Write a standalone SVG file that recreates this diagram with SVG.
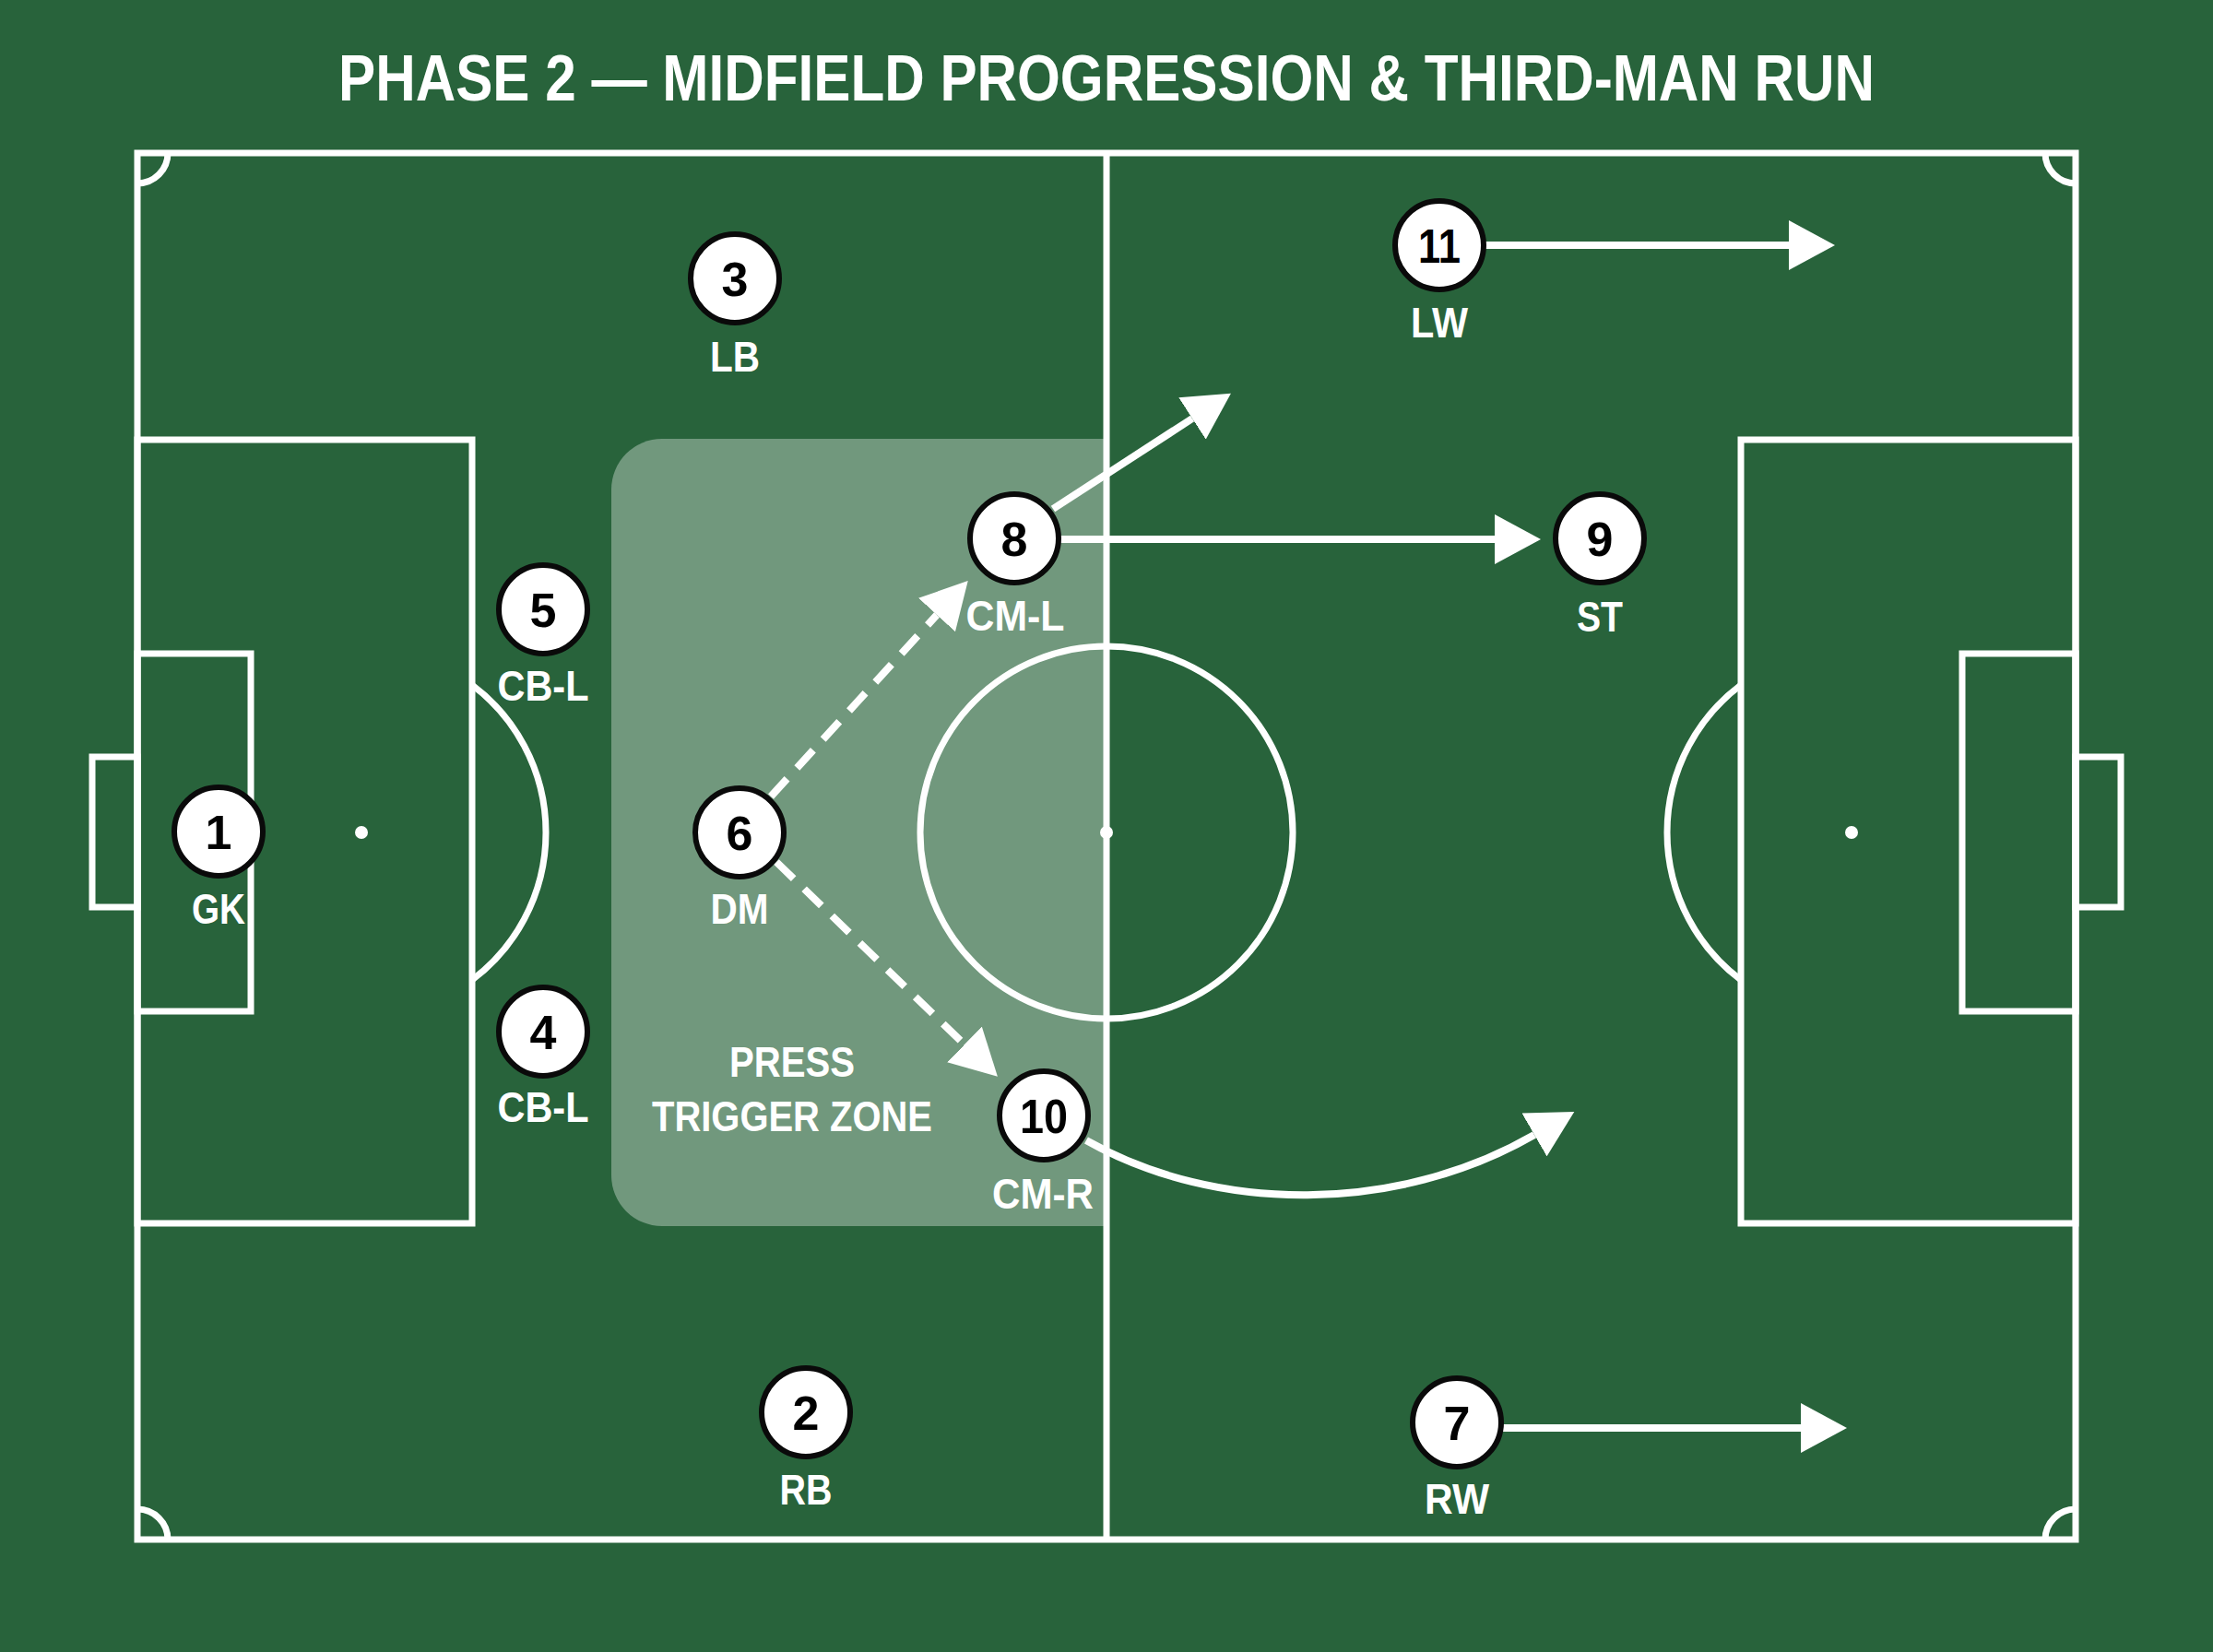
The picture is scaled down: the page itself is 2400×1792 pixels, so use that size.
<svg xmlns="http://www.w3.org/2000/svg" width="2400" height="1792" viewBox="0 0 2400 1792">
<style>
.line{fill:none;stroke:#ffffff;stroke-width:7}
.spot{fill:#ffffff}
.title{font-family:"Liberation Sans",Arial,sans-serif;font-weight:700;font-size:70px;fill:#ffffff}
.lbl{font-family:"Liberation Sans",Arial,sans-serif;font-weight:700;font-size:46px;fill:#ffffff;text-anchor:middle}
.num{font-family:"Liberation Sans",Arial,sans-serif;font-weight:700;font-size:52px;fill:#000000;text-anchor:middle}
.disc{fill:#ffffff;stroke:#0a0a0a;stroke-width:6}
.run{fill:none;stroke:#ffffff;stroke-width:8}
.pass{fill:none;stroke:#ffffff;stroke-width:8;stroke-dasharray:26 16}
</style>
<defs>
<marker id="head" markerUnits="userSpaceOnUse" viewBox="0 0 50 54" refX="0" refY="27" markerWidth="50" markerHeight="54" orient="auto">
<path d="M0,0 L50,27 L0,54 Z" fill="#ffffff"/>
</marker>
</defs>
<rect x="0" y="0" width="2400" height="1792" fill="#28633b"/>
<text class="title" x="1200" y="109" text-anchor="middle" textLength="1666" lengthAdjust="spacingAndGlyphs">PHASE 2 — MIDFIELD PROGRESSION &amp; THIRD-MAN RUN</text>
<g id="zone">
<path d="M718,476 H1200 V1330 H718 A55,55 0 0 1 663,1275 V531 A55,55 0 0 1 718,476 Z" fill="#ffffff" fill-opacity="0.34"/>
<text class="lbl" x="859" y="1168" textLength="136" lengthAdjust="spacingAndGlyphs">PRESS</text>
<text class="lbl" x="859" y="1227" textLength="304" lengthAdjust="spacingAndGlyphs">TRIGGER ZONE</text>
</g>
<g id="pitch">
<rect class="line" x="149" y="166" width="2102" height="1504"/>
<line class="line" x1="1200" y1="166" x2="1200" y2="1670"/>
<circle class="line" cx="1200" cy="903" r="202"/>
<circle class="spot" cx="1200" cy="903" r="7"/>
<rect class="line" x="149" y="477" width="363" height="850"/>
<rect class="line" x="149" y="709" width="123" height="388"/>
<rect class="line" x="100" y="821" width="49" height="163"/>
<circle class="spot" cx="392" cy="903" r="7"/>
<path class="line" d="M512,743 A200,200 0 0 1 512,1063"/>
<rect class="line" x="1888" y="477" width="363" height="850"/>
<rect class="line" x="2128" y="709" width="123" height="388"/>
<rect class="line" x="2251" y="821" width="49" height="163"/>
<circle class="spot" cx="2008" cy="903" r="7"/>
<path class="line" d="M1888,743 A200,200 0 0 0 1888,1063"/>
<path class="line" d="M182,166 A33,33 0 0 1 149,199"/>
<path class="line" d="M2218,166 A33,33 0 0 0 2251,199"/>
<path class="line" d="M149,1637 A33,33 0 0 1 182,1670"/>
<path class="line" d="M2251,1637 A33,33 0 0 0 2218,1670"/>
</g>
<g id="connectors">
<path class="run" d="M1610,266 L1940,266" marker-end="url(#head)"/>
<path class="run" d="M1149,585 L1621,585" marker-end="url(#head)"/>
<path class="run" d="M1142,552 L1293,454" marker-end="url(#head)"/>
<path class="pass" d="M836,864 L1016,667" marker-end="url(#head)"/>
<path class="pass" d="M842,935 L1046,1133" marker-end="url(#head)"/>
<path class="run" d="M1178,1237 C1319,1317 1515,1317 1664,1231" marker-end="url(#head)"/>
<path class="run" d="M1629,1549 L1953,1549" marker-end="url(#head)"/>
</g>
<g id="p1"><circle class="disc" cx="237" cy="902" r="48"/><text class="num" x="237" y="921">1</text><text class="lbl" x="237" y="1002" textLength="58" lengthAdjust="spacingAndGlyphs">GK</text></g>
<g id="p3"><circle class="disc" cx="797" cy="302" r="48"/><text class="num" x="797" y="321">3</text><text class="lbl" x="797" y="403" textLength="54" lengthAdjust="spacingAndGlyphs">LB</text></g>
<g id="p5"><circle class="disc" cx="589" cy="661" r="48"/><text class="num" x="589" y="680">5</text><text class="lbl" x="589" y="760" textLength="99" lengthAdjust="spacingAndGlyphs">CB-L</text></g>
<g id="p4"><circle class="disc" cx="589" cy="1119" r="48"/><text class="num" x="589" y="1138">4</text><text class="lbl" x="589" y="1217" textLength="99" lengthAdjust="spacingAndGlyphs">CB-L</text></g>
<g id="p2"><circle class="disc" cx="874" cy="1532" r="48"/><text class="num" x="874" y="1551">2</text><text class="lbl" x="874" y="1632" textLength="57" lengthAdjust="spacingAndGlyphs">RB</text></g>
<g id="p6"><circle class="disc" cx="802" cy="903" r="48"/><text class="num" x="802" y="922">6</text><text class="lbl" x="802" y="1002" textLength="63" lengthAdjust="spacingAndGlyphs">DM</text></g>
<g id="p8"><circle class="disc" cx="1100" cy="584" r="48"/><text class="num" x="1100" y="603">8</text><text class="lbl" x="1101" y="684" textLength="107" lengthAdjust="spacingAndGlyphs">CM-L</text></g>
<g id="p10"><circle class="disc" cx="1132" cy="1210" r="48"/><text class="num" x="1132" y="1229" textLength="52" lengthAdjust="spacingAndGlyphs">10</text><text class="lbl" x="1131" y="1311" textLength="110" lengthAdjust="spacingAndGlyphs">CM-R</text></g>
<g id="p9"><circle class="disc" cx="1735" cy="584" r="48"/><text class="num" x="1735" y="603">9</text><text class="lbl" x="1735" y="685" textLength="50" lengthAdjust="spacingAndGlyphs">ST</text></g>
<g id="p11"><circle class="disc" cx="1561" cy="266" r="48"/><text class="num" x="1561" y="285" textLength="46" lengthAdjust="spacingAndGlyphs">11</text><text class="lbl" x="1561" y="366" textLength="62" lengthAdjust="spacingAndGlyphs">LW</text></g>
<g id="p7"><circle class="disc" cx="1580" cy="1543" r="48"/><text class="num" x="1580" y="1562">7</text><text class="lbl" x="1580" y="1642" textLength="70" lengthAdjust="spacingAndGlyphs">RW</text></g>
</svg>
